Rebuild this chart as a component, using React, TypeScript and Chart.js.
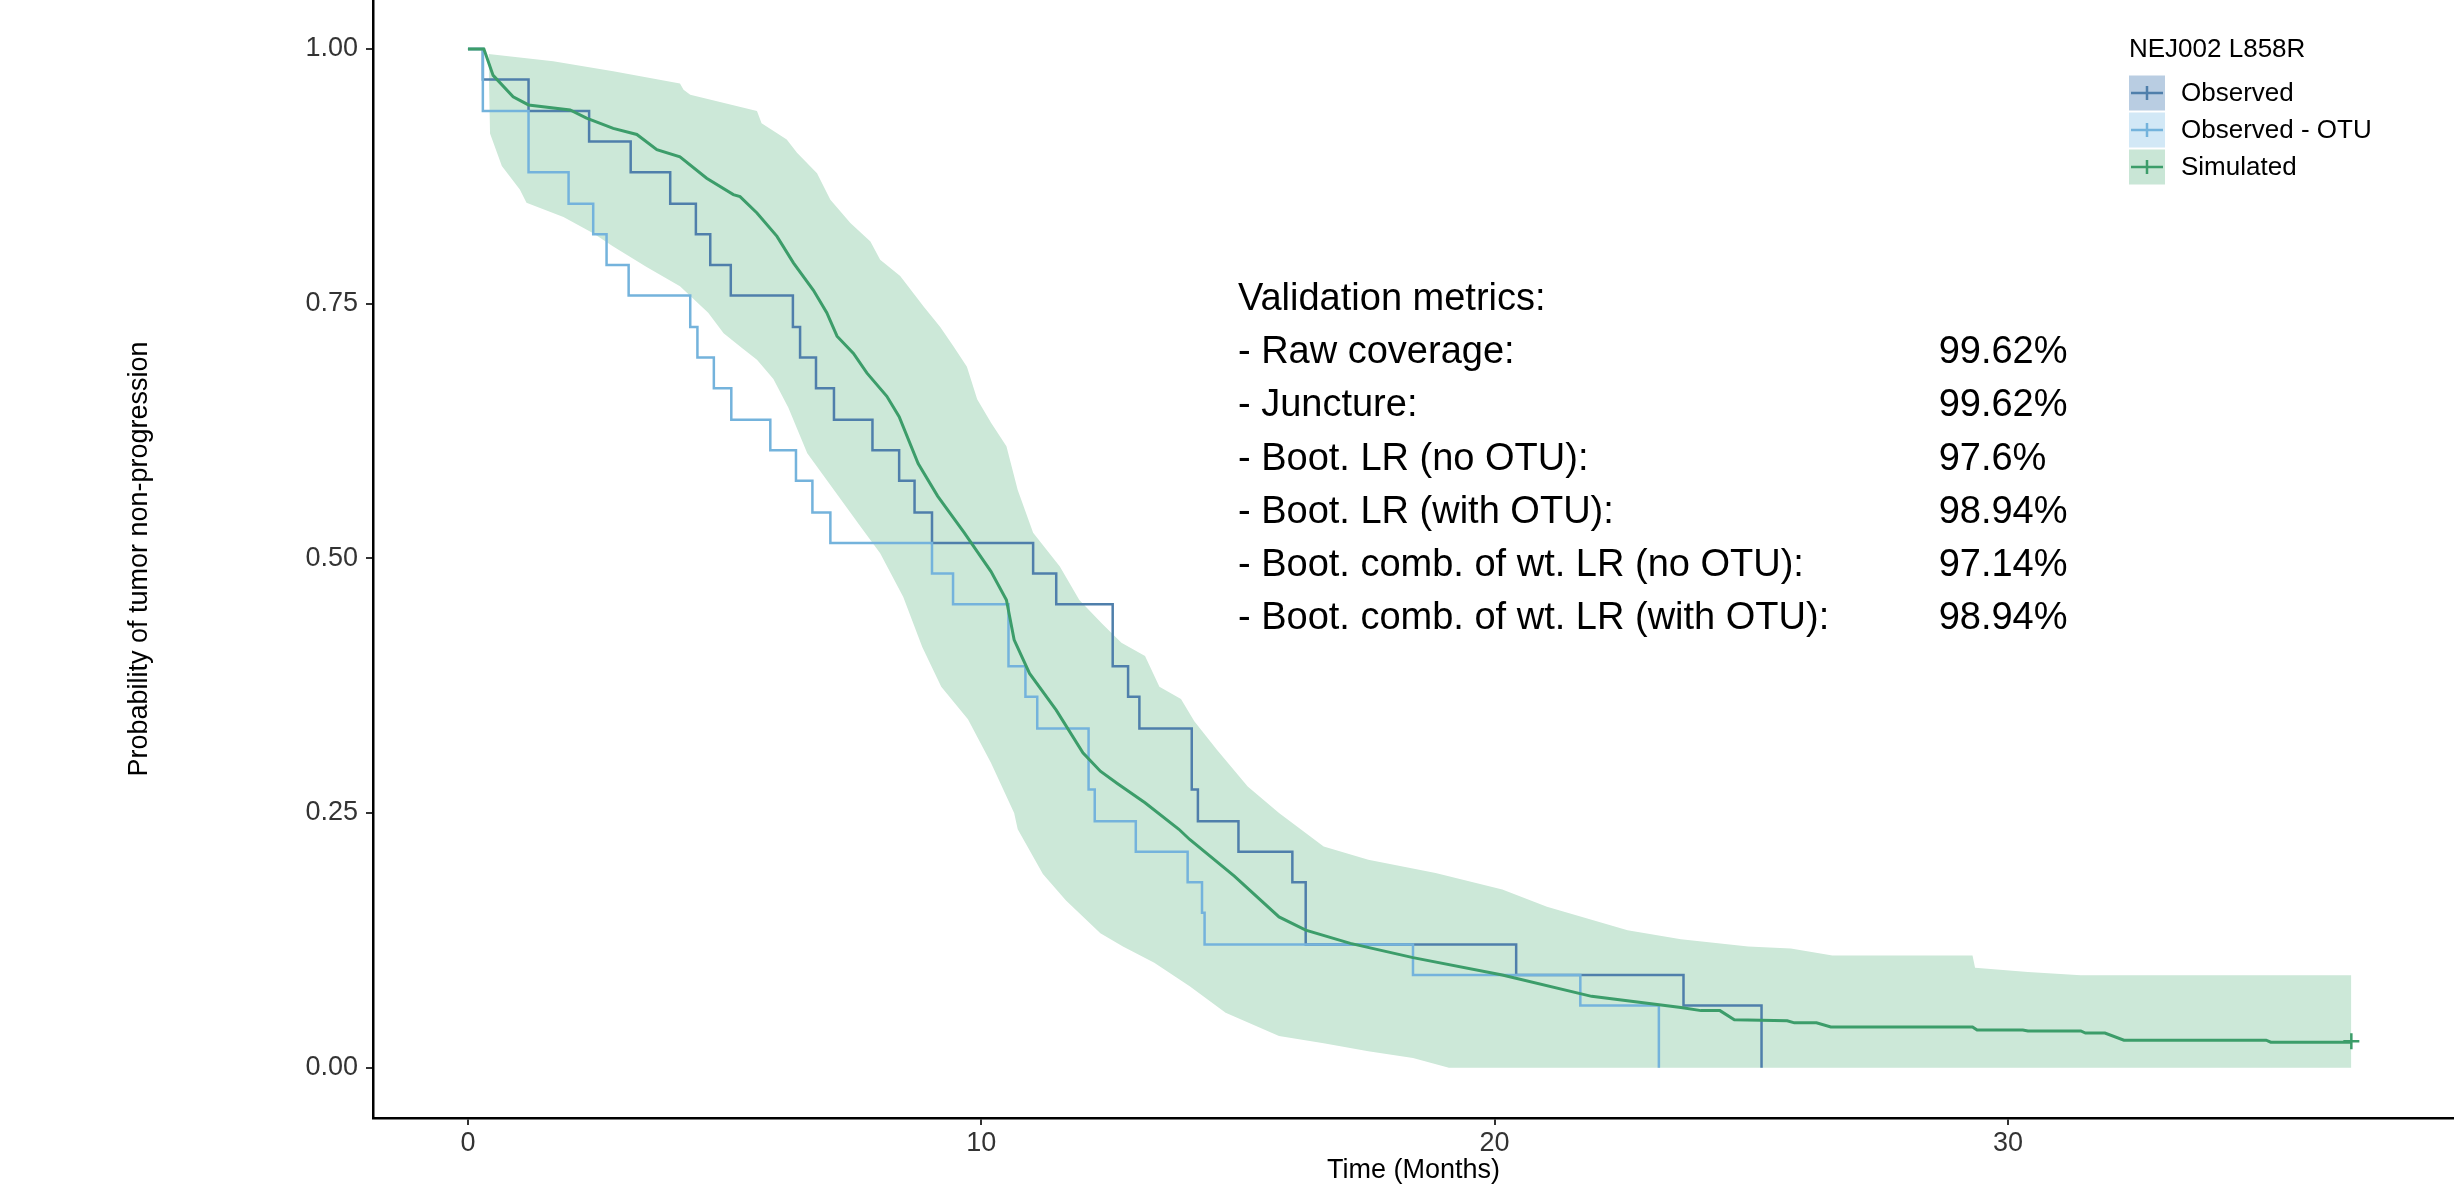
import React, { useEffect, useRef } from "react";
import { Chart, registerables } from "chart.js";

Chart.register(...registerables);

const FONT = "'Liberation Sans', Arial, Helvetica, sans-serif";

// ---------- data ----------
const observedTime = [0, 0.29, 1.18, 2.36, 3.17, 3.94, 4.44, 4.72, 5.12, 6.33, 6.47, 6.78, 7.13, 7.88, 8.4, 8.7, 9.04, 11.01, 11.46, 12.56, 12.86, 13.08, 14.1, 14.22, 15.01, 16.06, 16.32, 20.42, 23.68, 25.2];
const observedSurv = [1, 0.97, 0.939, 0.909, 0.879, 0.848, 0.818, 0.788, 0.758, 0.727, 0.697, 0.667, 0.636, 0.606, 0.576, 0.545, 0.515, 0.485, 0.455, 0.394, 0.364, 0.333, 0.273, 0.242, 0.212, 0.182, 0.121, 0.091, 0.061, 0];

const otuTime = [0, 0.29, 1.18, 1.96, 2.44, 2.7, 3.13, 4.33, 4.47, 4.79, 5.13, 5.89, 6.39, 6.71, 7.06, 9.04, 9.45, 10.53, 10.86, 11.09, 12.09, 12.21, 13.01, 14.02, 14.3, 14.35, 18.41, 21.67, 23.2];
const otuSurv = [1, 0.939, 0.879, 0.848, 0.818, 0.788, 0.758, 0.727, 0.697, 0.667, 0.636, 0.606, 0.576, 0.545, 0.515, 0.485, 0.455, 0.394, 0.364, 0.333, 0.273, 0.242, 0.212, 0.182, 0.152, 0.121, 0.091, 0.061, 0];

const simTime = [0, 0.31, 0.49, 0.88, 1.18, 1.99, 2.31, 2.83, 3.29, 3.68, 4.13, 4.65, 5.17, 5.3, 5.63, 6.02, 6.34, 6.73, 6.99, 7.19, 7.51, 7.77, 8.16, 8.4, 8.77, 9.15, 9.67, 10.19, 10.49, 10.64, 10.94, 11.46, 11.98, 12.32, 12.65, 13.19, 13.85, 14.06, 14.93, 15.8, 16.32, 17.19, 18.41, 20.15, 21.89, 23.63, 24.02, 24.39, 24.67, 25.7, 25.84, 26.27, 26.55, 29.31, 29.4, 30.29, 30.39, 31.42, 31.51, 31.89, 32.26, 35.03, 35.12, 36.69];
const simSurv = [1, 1, 0.974, 0.953, 0.945, 0.94, 0.932, 0.922, 0.916, 0.901, 0.894, 0.873, 0.857, 0.855, 0.839, 0.816, 0.79, 0.763, 0.741, 0.718, 0.701, 0.682, 0.659, 0.639, 0.593, 0.561, 0.525, 0.487, 0.459, 0.42, 0.387, 0.351, 0.309, 0.291, 0.279, 0.26, 0.234, 0.224, 0.188, 0.148, 0.135, 0.122, 0.108, 0.091, 0.07, 0.059, 0.056, 0.056, 0.047, 0.046, 0.044, 0.044, 0.04, 0.04, 0.037, 0.037, 0.036, 0.036, 0.034, 0.034, 0.027, 0.027, 0.025, 0.025];

const simEndTime = [36.69];
const simEndSurv = [0.026];

const bandUpperTime = [0.4, 1.66, 2.83, 4.13, 4.2, 4.33, 5.63, 5.72, 6.21, 6.41, 6.8, 7.06, 7.45, 7.84, 8.03, 8.42, 8.88, 9.2, 9.46, 9.72, 9.92, 10.19, 10.49, 10.71, 11.01, 11.53, 11.91, 12.35, 12.73, 13.19, 13.47, 13.89, 14.15, 14.59, 15.19, 15.8, 16.67, 17.54, 18.85, 20.15, 21.02, 22.59, 23.63, 24.94, 25.77, 26.58, 29.31, 29.36, 30.39, 31.42, 36.69];
const bandUpperVal = [0.995, 0.988, 0.978, 0.966, 0.96, 0.955, 0.939, 0.927, 0.911, 0.898, 0.878, 0.852, 0.829, 0.811, 0.793, 0.777, 0.747, 0.727, 0.708, 0.688, 0.656, 0.633, 0.61, 0.567, 0.525, 0.492, 0.459, 0.436, 0.417, 0.404, 0.374, 0.362, 0.34, 0.312, 0.276, 0.25, 0.217, 0.204, 0.191, 0.175, 0.158, 0.135, 0.126, 0.119, 0.117, 0.11, 0.11, 0.098, 0.094, 0.0906, 0.0906];

const bandLowerTime = [0.4, 0.43, 0.66, 1.01, 1.14, 1.86, 2.44, 2.83, 3.48, 4.13, 4.68, 4.98, 5.35, 5.63, 5.95, 6.24, 6.61, 7.13, 7.65, 8.03, 8.48, 8.85, 9.22, 9.74, 10.19, 10.64, 10.71, 11.2, 11.65, 12.32, 12.76, 13.37, 14.06, 14.76, 15.8, 16.67, 17.54, 18.41, 19.11, 36.69];
const bandLowerVal = [0.995, 0.917, 0.885, 0.862, 0.849, 0.835, 0.819, 0.806, 0.786, 0.767, 0.741, 0.721, 0.706, 0.695, 0.676, 0.648, 0.603, 0.567, 0.531, 0.505, 0.462, 0.413, 0.374, 0.342, 0.299, 0.25, 0.234, 0.19, 0.164, 0.132, 0.119, 0.103, 0.08, 0.054, 0.031, 0.024, 0.016, 0.0095, 0, 0];

const xTicks = [0, 10, 20, 30];
const yTicks = [0, 0.25, 0.5, 0.75, 1];

const legendTitle = "NEJ002 L858R";
const legendLabels = ["Observed", "Observed - OTU", "Simulated"];

const metricsLabels = [
  "Validation metrics:",
  "- Raw coverage:",
  "- Juncture:",
  "- Boot. LR (no OTU):",
  "- Boot. LR (with OTU):",
  "- Boot. comb. of wt. LR (no OTU):",
  "- Boot. comb. of wt. LR (with OTU):",
];
const metricsValues = ["", "99.62%", "99.62%", "97.6%", "98.94%", "97.14%", "98.94%"];

// ---------- styles ----------
const COL_OBS = "#4f7fab";
const COL_OTU = "#74b3dc";
const COL_SIM = "#3c9d6a";
const COL_BAND = "#cce8d8";
const KEY_FILLS = ["#b9cde2", "#d2e8f6", "#c9e6d6"];
const KEY_LINES = [COL_OBS, COL_OTU, COL_SIM];

const pts = (xs: number[], ys: number[]) => xs.map((x, i) => ({ x, y: ys[i] }));

export default function App() {
  const ref = useRef<HTMLCanvasElement>(null);

  useEffect(() => {
    document.body.style.margin = "0";
    const canvas = ref.current;
    if (!canvas) return;

    const overlay = {
      id: "overlay",
      afterDraw(chart: any) {
        const { ctx, scales } = chart;
        const xs = scales.x;
        const ys = scales.y;
        ctx.save();
        // metrics annotation
        ctx.fillStyle = "#000";
        ctx.font = `38px ${FONT}`;
        ctx.textAlign = "left";
        ctx.textBaseline = "alphabetic";
        const lx = xs.getPixelForValue(15);
        const vx = xs.getPixelForValue(28.65);
        metricsLabels.forEach((t, i) => {
          const yy = ys.getPixelForValue(0.744 - i * 0.0523);
          ctx.fillText(t, lx, yy);
          if (metricsValues[i]) ctx.fillText(metricsValues[i], vx, yy);
        });

        // legend
        const lgX = 2129;
        ctx.font = `26px ${FONT}`;
        ctx.fillStyle = "#000";
        ctx.fillText(legendTitle, lgX, 57);
        legendLabels.forEach((lab, i) => {
          const top = 75.5 + i * 37;
          const w = 36;
          const h = 35;
          ctx.fillStyle = KEY_FILLS[i];
          ctx.fillRect(lgX, top, w, h);
          const cy = top + h / 2;
          ctx.strokeStyle = KEY_LINES[i];
          ctx.lineWidth = 2.5;
          ctx.beginPath();
          ctx.moveTo(lgX + 2, cy);
          ctx.lineTo(lgX + w - 2, cy);
          ctx.moveTo(lgX + w / 2, cy - 7);
          ctx.lineTo(lgX + w / 2, cy + 7);
          ctx.stroke();
          ctx.fillStyle = "#000";
          ctx.textBaseline = "middle";
          ctx.fillText(lab, lgX + 52, cy + 1);
          ctx.textBaseline = "alphabetic";
        });
        ctx.restore();
      },
    };

    const chart = new Chart(canvas, {
      type: "line",
      data: {
        datasets: [
          {
            label: "Simulated",
            data: pts(simTime, simSurv),
            borderColor: COL_SIM,
            borderWidth: 3,
            pointRadius: 0,
            pointHoverRadius: 0,
            fill: false,
            order: 0,
          },
          {
            label: "Simulated end",
            data: pts(simEndTime, simEndSurv),
            showLine: false,
            pointStyle: "cross",
            pointRadius: 8,
            pointBorderWidth: 2.5,
            borderColor: COL_SIM,
            pointBorderColor: COL_SIM,
            order: 0,
          },
          {
            label: "Observed - OTU",
            data: pts(otuTime, otuSurv),
            borderColor: COL_OTU,
            borderWidth: 2.5,
            pointRadius: 0,
            pointHoverRadius: 0,
            stepped: "before",
            fill: false,
            order: 1,
          },
          {
            label: "Observed",
            data: pts(observedTime, observedSurv),
            borderColor: COL_OBS,
            borderWidth: 2.5,
            pointRadius: 0,
            pointHoverRadius: 0,
            stepped: "before",
            fill: false,
            order: 2,
          },
          {
            label: "band upper",
            data: pts(bandUpperTime, bandUpperVal),
            borderWidth: 0,
            borderColor: "rgba(0,0,0,0)",
            backgroundColor: COL_BAND,
            pointRadius: 0,
            pointHoverRadius: 0,
            fill: "+1",
            order: 3,
          },
          {
            label: "band lower",
            data: pts(bandLowerTime, bandLowerVal),
            borderWidth: 0,
            borderColor: "rgba(0,0,0,0)",
            pointRadius: 0,
            pointHoverRadius: 0,
            fill: false,
            order: 4,
          },
        ],
      },
      options: {
        responsive: false,
        devicePixelRatio: 1,
        animation: false,
        events: [],
        layout: { padding: 0, autoPadding: false },
        plugins: {
          legend: { display: false },
          tooltip: { enabled: false },
        },
        scales: {
          x: {
            type: "linear",
            min: -1.85,
            max: 38.69,
            afterFit: (s: any) => {
              s.height = 77;
              s.paddingLeft = 0;
              s.paddingRight = 0;
            },
            afterBuildTicks: (s: any) => {
              s.ticks = xTicks.map((v) => ({ value: v }));
            },
            grid: {
              display: true,
              drawOnChartArea: false,
              drawTicks: true,
              tickLength: 7,
              color: "#333",
              lineWidth: 2,
            },
            border: { display: true, color: "#000", width: 2.5 },
            ticks: {
              font: { size: 27, family: FONT },
              color: "#333333",
              padding: 2,
              maxRotation: 0,
              callback: (v: any) => String(v),
            },
            title: {
              display: true,
              text: "Time (Months)",
              font: { size: 27, family: FONT },
              color: "#000",
              padding: { top: 0, bottom: 8 },
            },
          },
          y: {
            type: "linear",
            min: -0.0494,
            max: 1.048,
            afterFit: (s: any) => {
              s.width = 373;
              s.paddingTop = 0;
              s.paddingBottom = 0;
            },
            afterBuildTicks: (s: any) => {
              s.ticks = yTicks.map((v) => ({ value: v }));
            },
            grid: {
              display: true,
              drawOnChartArea: false,
              drawTicks: true,
              tickLength: 7,
              color: "#333",
              lineWidth: 2,
            },
            border: { display: true, color: "#000", width: 2.5 },
            ticks: {
              font: { size: 27, family: FONT },
              color: "#333333",
              padding: 8,
              callback: (v: any) => Number(v).toFixed(2),
            },
            title: {
              display: true,
              text: "Probability of tumor non-progression",
              font: { size: 27, family: FONT },
              color: "#000",
              padding: { top: 123, bottom: 0 },
            },
          },
        },
      },
      plugins: [overlay],
    } as any);

    return () => chart.destroy();
  }, []);

  return (
    <div>
      <canvas ref={ref} width={2454} height={1195} style={{ display: "block", width: "2454px", height: "1195px" }} />
    </div>
  );
}
